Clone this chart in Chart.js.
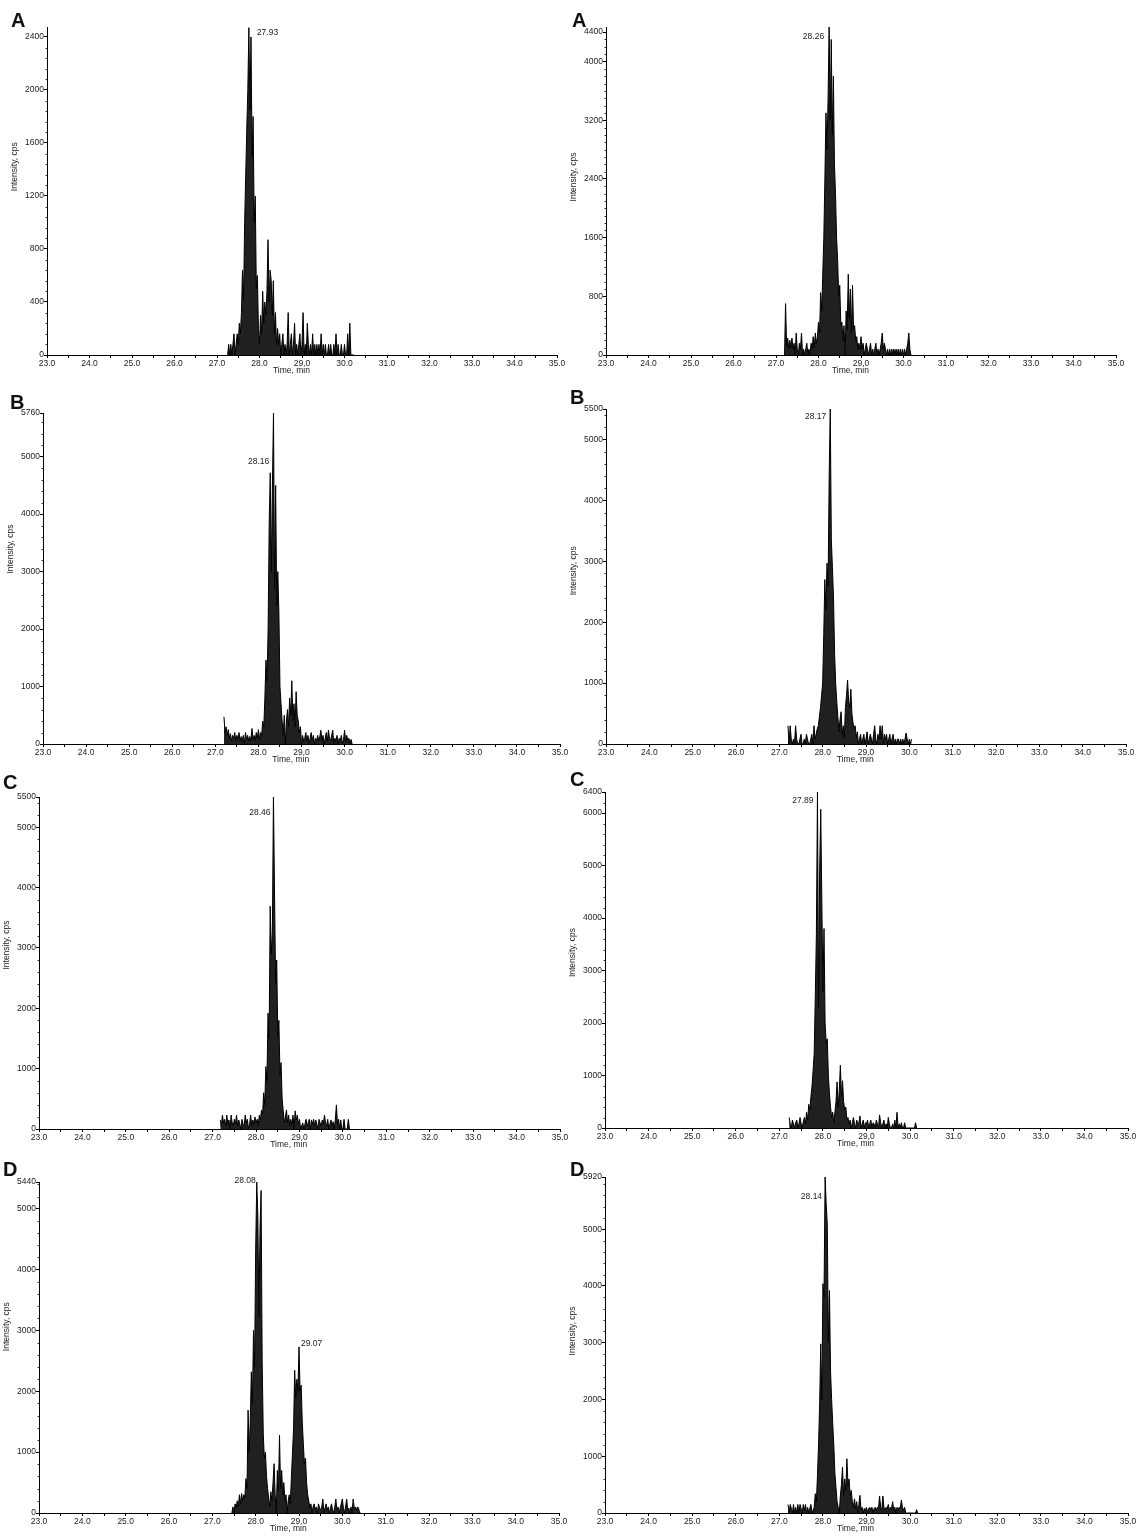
<!DOCTYPE html>
<html>
<head>
<meta charset="utf-8">
<script src="https://cdn.jsdelivr.net/npm/chart.js@4.4.1/dist/chart.umd.min.js"></script>
<style>
  body { margin: 0; background: #fff; width: 1139px; height: 1537px; position: relative; overflow: hidden; }
  .letter { position: absolute; font: bold 20px/20px Arial, "Liberation Sans", sans-serif; color: #111; }
</style>
</head>
<body>
<script>
// sampling step of the traces (min) and the time axis
const timeStep = 0.025;
const timeMin = 23, timeMax = 35;

// A, left
const startA1 = 27.25;
const intensityA1 = [
  0,80,0,80,0,80,160,0,80,160,
  80,240,160,320,640,420,1000,1350,1700,2000,
  2470,1850,2400,1500,1800,1000,1200,500,600,200,
  80,300,160,480,240,400,300,480,870,400,
  640,560,300,560,160,320,80,200,80,160,
  0,80,160,0,80,0,80,320,0,80,
  160,0,80,240,0,80,0,80,160,0,
  80,320,0,80,0,240,80,0,80,0,
  160,0,80,0,80,0,80,0,160,0,
  80,0,80,0,0,80,0,80,0,0,
  80,0,160,0,80,0,0,80,0,0,
  80,0,0,160,0,240,0,0,0,0
];
// A, right
const startA2 = 27.2;
const intensityA2 = [
  0,700,120,230,80,200,100,230,80,160,
  0,300,80,0,160,80,300,0,80,0,
  80,160,0,80,0,160,80,250,100,300,
  160,250,450,300,850,600,1100,1600,2400,3300,
  2800,3500,4470,3200,4300,3000,3800,2600,2200,1600,
  1300,800,950,400,450,200,400,0,600,350,
  1100,500,900,300,950,350,400,200,250,80,
  160,80,250,80,160,0,80,160,80,0,
  80,160,0,80,0,80,160,0,80,0,
  80,160,300,80,160,80,0,80,0,80,
  0,80,0,80,0,80,0,80,0,80,
  0,80,0,80,0,80,160,300,80,0
];
// B, left
const startB1 = 27.2;
const intensityB1 = [
  475,200,300,150,250,100,180,50,150,100,
  200,50,150,80,200,50,130,60,150,0,
  200,80,150,50,130,60,270,80,150,60,
  200,100,250,80,200,150,400,300,800,1460,
  1100,2000,3840,4720,3000,4490,5760,2700,4500,2400,
  3000,2300,1000,700,400,150,500,0,400,600,
  300,800,500,1100,400,700,300,910,500,400,
  200,300,0,150,50,100,200,50,150,0,
  100,200,60,150,0,100,50,150,60,130,
  240,50,150,0,100,200,50,240,100,60,
  150,240,0,100,50,150,0,100,60,150,
  0,80,240,50,150,60,100,0,80,0
];
// B, right
const startB2 = 27.2;
const intensityB2 = [
  300,0,300,80,0,80,0,300,80,0,
  0,80,160,0,0,80,0,160,80,0,
  0,80,160,0,300,80,160,250,300,450,
  600,800,1000,1800,2700,2200,2970,2600,4395,5500,
  3350,2900,2400,1490,1000,700,450,200,400,530,
  150,300,100,600,800,1050,700,600,900,500,
  350,250,300,100,200,0,80,160,0,80,
  160,0,80,200,0,80,160,80,0,160,
  300,80,0,160,80,300,80,300,0,160,
  80,160,0,80,160,0,80,160,0,80,
  0,80,80,0,80,0,80,0,80,180,
  80,0,80,0,80
];
// C, left
const startC1 = 27.175;
const intensityC1 = [
  150,50,230,100,160,50,230,80,150,0,
  230,100,50,160,80,230,50,150,80,0,
  160,80,50,230,100,160,0,80,230,50,
  150,80,200,100,160,60,230,150,315,250,
  600,400,1035,800,1920,1500,3690,2900,3270,5500,
  3910,2400,2800,1530,1800,900,1100,500,300,100,
  200,315,100,230,50,160,80,230,0,300,
  150,230,80,160,0,50,100,0,80,160,
  50,100,160,0,150,80,160,50,150,80,
  0,160,100,50,150,80,230,100,50,160,
  0,80,150,50,120,0,150,400,80,160,
  0,150,0,0,160,0,0,0,160,0
];
// C, right
const startC2 = 27.225;
const intensityC2 = [
  200,80,0,150,80,0,100,150,0,80,
  200,80,0,120,200,80,300,150,450,350,
  600,800,1100,1420,2500,3700,6400,2280,4900,6070,
  4340,2600,3800,2000,1610,1700,1000,650,400,200,
  300,100,300,500,878,400,700,1195,600,900,
  500,350,400,150,200,80,150,0,100,200,
  80,0,150,80,100,230,0,80,150,0,
  100,80,150,0,80,150,0,100,80,0,
  150,80,0,250,100,0,80,150,0,80,
  0,200,80,0,0,80,0,150,0,300,
  0,80,0,100,0,0,100,0,0,0,
  0,0,0,0,0,0,100,0
];
// D, left
const startD1 = 27.45;
const intensityD1 = [
  0,100,0,150,80,200,100,300,150,320,
  200,300,250,565,400,1690,1000,1500,2320,1800,
  3000,2400,4320,5440,4890,3220,4660,5300,2500,1300,
  900,1000,600,400,250,100,350,200,500,810,
  300,0,700,350,1277,400,700,300,500,200,
  300,0,200,300,150,600,1000,1400,2345,1900,
  2200,2000,2730,2000,2100,1500,1140,800,900,500,
  300,200,80,150,0,100,150,50,100,0,
  150,80,50,100,230,0,80,150,50,100,
  0,80,150,50,0,100,230,50,100,0,
  80,150,230,80,0,100,230,50,80,0,
  100,0,230,80,100,50,100,80,0,0
];
// D, right
const startD2 = 27.2;
const intensityD2 = [
  150,0,150,80,0,150,0,100,0,150,
  0,150,80,0,150,50,150,0,100,0,
  80,150,0,50,100,340,200,663,1200,1925,
  2980,2000,4040,3800,5920,5450,5095,3000,3920,2500,
  2000,1573,1190,700,450,200,100,0,300,500,
  810,300,600,400,957,500,600,300,400,200,
  100,250,80,200,0,150,311,50,100,0,
  80,50,100,0,80,100,50,100,0,80,
  100,50,100,80,300,100,50,300,100,50,
  100,80,150,50,100,80,200,50,100,0,
  100,50,100,80,230,100,50,100,0,0,
  0,0,0,0,0,0,0,0,60,0
];

// y axis tick labels
const yTicksA1 = [0,400,800,1200,1600,2000,2400];
const yTicksA2 = [0,800,1600,2400,3200,4000,4400];
const yTicksB1 = [0,1000,2000,3000,4000,5000,5760];
const yTicksB2 = [0,1000,2000,3000,4000,5000,5500];
const yTicksC1 = [0,1000,2000,3000,4000,5000,5500];
const yTicksC2 = [0,1000,2000,3000,4000,5000,6000,6400];
const yTicksD1 = [0,1000,2000,3000,4000,5000,5440];
const yTicksD2 = [0,1000,2000,3000,4000,5000,5920];

// retention time labels: [time, intensity, text]
const peaksA1 = [[27.75, 2470, '27.93']];
const peaksA2 = [[28.25, 4470, '28.26']];
const peaksB1 = [[28.275, 4720, '28.16']];
const peaksB2 = [[28.175, 5500, '28.17']];
const peaksC1 = [[28.4, 5500, '28.46']];
const peaksC2 = [[27.875, 6400, '27.89']];
const peaksD1 = [[28.025, 5440, '28.08'], [29.0, 2730, '29.07']];
const peaksD2 = [[28.05, 5920, '28.14']];

const panels = [
  {id: 'A1', letter: 'A', start: startA1, values: intensityA1, ticks: yTicksA1, yMax: 2475, minor: 80,  peaks: peaksA1},
  {id: 'A2', letter: 'A', start: startA2, values: intensityA2, ticks: yTicksA2, yMax: 4470, minor: 100, peaks: peaksA2},
  {id: 'B1', letter: 'B', start: startB1, values: intensityB1, ticks: yTicksB1, yMax: 5760, minor: 200, peaks: peaksB1},
  {id: 'B2', letter: 'B', start: startB2, values: intensityB2, ticks: yTicksB2, yMax: 5500, minor: 200, peaks: peaksB2},
  {id: 'C1', letter: 'C', start: startC1, values: intensityC1, ticks: yTicksC1, yMax: 5500, minor: 200, peaks: peaksC1},
  {id: 'C2', letter: 'C', start: startC2, values: intensityC2, ticks: yTicksC2, yMax: 6400, minor: 200, peaks: peaksC2},
  {id: 'D1', letter: 'D', start: startD1, values: intensityD1, ticks: yTicksD1, yMax: 5440, minor: 200, peaks: peaksD1},
  {id: 'D2', letter: 'D', start: startD2, values: intensityD2, ticks: yTicksD2, yMax: 5920, minor: 200, peaks: peaksD2}
];

// plot-area frames on the page, letter positions, label offsets
const frames = {
  A1: {left: 46.5, right: 556.5, top: 27,   bottom: 355,  letter: [11, 13],   yTitle: 0.574, offsets: [[8, 5]]},
  A2: {left: 605.5, right: 1116, top: 27,   bottom: 354.5, letter: [572, 13], yTitle: 0.543, offsets: [[-5, 10]]},
  B1: {left: 43,   right: 559.5, top: 413,  bottom: 744,  letter: [10, 395],  yTitle: 0.589, offsets: [[-1, -11]]},
  B2: {left: 605.5, right: 1126, top: 409,  bottom: 744,  letter: [570, 390], yTitle: 0.517, offsets: [[-4, 8]]},
  C1: {left: 38.5, right: 560,   top: 797,  bottom: 1129, letter: [3, 775],   yTitle: 0.554, offsets: [[-3, 16]]},
  C2: {left: 604.5, right: 1128, top: 792,  bottom: 1128, letter: [570, 772], yTitle: 0.522, offsets: [[-4, 9]]},
  D1: {left: 38.5, right: 559,   top: 1182, bottom: 1513, letter: [3, 1162],  yTitle: 0.563, offsets: [[-1, -1], [2, -3]]},
  D2: {left: 605,  right: 1127.5, top: 1177, bottom: 1513, letter: [570, 1162], yTitle: 0.542, offsets: [[-3, 20]]}
};

const AXIS_W = 40, AXIS_H = 24, PAD_TOP = 8, PAD_RIGHT = 14;
const FONT = 'Arial, "Liberation Sans", sans-serif';
const xTitleAt = 28.75;

Chart.defaults.font.family = FONT;
Chart.defaults.font.size = 8.5;
Chart.defaults.color = '#222';

const chromText = {
  id: 'chromText',
  afterDraw(chart, args, opts) {
    const {ctx, chartArea: area, scales: {x, y}} = chart;
    ctx.save();
    // minor ticks on the intensity axis
    ctx.strokeStyle = '#333';
    ctx.lineWidth = 1;
    for (let v = opts.minor; v < y.max; v += opts.minor) {
      if (opts.ticks.includes(v)) continue;
      const py = Math.round(y.getPixelForValue(v)) + 0.5;
      ctx.beginPath();
      ctx.moveTo(area.left - 1.5, py);
      ctx.lineTo(area.left, py);
      ctx.stroke();
    }
    ctx.fillStyle = '#222';
    ctx.font = '8.5px ' + FONT;
    ctx.textBaseline = 'middle';
    // retention time labels
    opts.peaks.forEach((pk, i) => {
      const off = opts.offsets[i];
      ctx.textAlign = off[0] < 0 ? 'right' : 'left';
      ctx.fillText(pk[2], x.getPixelForValue(pk[0]) + off[0], y.getPixelForValue(pk[1]) + off[1]);
    });
    // axis titles
    ctx.textAlign = 'center';
    ctx.fillText('Time, min', x.getPixelForValue(xTitleAt), area.bottom + 16);
    ctx.translate(area.left - 32, area.bottom - opts.yTitle * (area.bottom - area.top));
    ctx.rotate(-Math.PI / 2);
    ctx.fillText('Intensity, cps', 0, 0);
    ctx.restore();
  }
};

panels.forEach(p => {
  const f = frames[p.id];
  const L = Math.round(f.left), R = Math.round(f.right);
  const T = Math.round(f.top), B = Math.round(f.bottom);
  const cLeft = L - AXIS_W, cTop = T - PAD_TOP;
  const w = R + PAD_RIGHT - cLeft, h = B + AXIS_H - cTop;

  const canvas = document.createElement('canvas');
  canvas.width = w;
  canvas.height = h;
  canvas.style.cssText = `position:absolute;left:${cLeft}px;top:${cTop}px;width:${w}px;height:${h}px`;
  document.body.appendChild(canvas);

  const letter = document.createElement('div');
  letter.className = 'letter';
  letter.textContent = p.letter;
  letter.style.left = f.letter[0] + 'px';
  letter.style.top = (f.letter[1] - 3) + 'px';
  document.body.appendChild(letter);

  const points = p.values.map((v, i) => ({x: +(p.start + i * timeStep).toFixed(3), y: v}));

  new Chart(canvas.getContext('2d'), {
    type: 'line',
    data: {
      datasets: [{
        data: points,
        borderColor: '#000',
        borderWidth: 1,
        backgroundColor: 'rgba(8,8,8,0.9)',
        fill: 'origin',
        pointRadius: 0,
        tension: 0
      }]
    },
    options: {
      responsive: false,
      animation: false,
      layout: {padding: {top: PAD_TOP, right: PAD_RIGHT, left: 0, bottom: 0}},
      plugins: {
        legend: {display: false},
        tooltip: {enabled: false},
        chromText: {minor: p.minor, ticks: p.ticks, peaks: p.peaks, offsets: f.offsets, yTitle: f.yTitle}
      },
      scales: {
        x: {
          type: 'linear',
          min: timeMin,
          max: timeMax,
          afterFit: s => { s.height = AXIS_H; },
          grid: {drawOnChartArea: false, tickLength: 3, tickColor: '#000'},
          border: {color: '#000', width: 1},
          ticks: {
            stepSize: 0.5,
            autoSkip: false,
            maxRotation: 0,
            padding: 1,
            callback: v => Math.abs(v - Math.round(v)) < 1e-6 ? v.toFixed(1) : ''
          }
        },
        y: {
          min: 0,
          max: p.yMax,
          afterFit: s => { s.width = AXIS_W; },
          afterBuildTicks: s => { s.ticks = p.ticks.map(v => ({value: v})); },
          grid: {drawOnChartArea: false, tickLength: 3, tickColor: '#000'},
          border: {color: '#000', width: 1},
          ticks: {padding: 0, callback: v => String(v)}
        }
      }
    },
    plugins: [chromText]
  });
});
</script>
</body>
</html>
